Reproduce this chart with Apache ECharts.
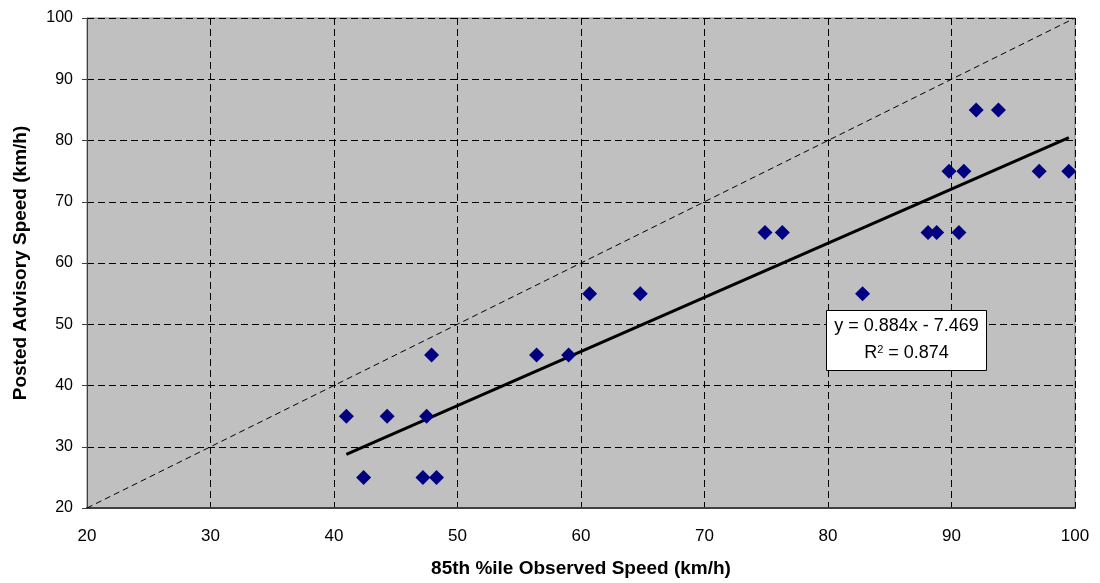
<!DOCTYPE html>
<html>
<head>
<meta charset="utf-8">
<script src="https://cdn.jsdelivr.net/npm/echarts@6/dist/echarts.min.js"></script>
<style>html,body{margin:0;padding:0;background:#fff}#c{width:1100px;height:583px}</style>
</head>
<body>
<div id="c"></div>
<script>
// Observed 85th percentile speed (km/h)
const observed = [41.0, 44.3, 47.5, 42.4, 47.2, 48.3, 47.9, 56.4, 59.0, 60.7, 64.8, 82.8,
                  74.9, 76.3, 88.1, 88.8, 90.6, 89.8, 91.0, 97.1, 99.5, 92.0, 93.8];
// Posted advisory speed (km/h)
const posted   = [35, 35, 35, 25, 25, 25, 45, 45, 45, 55, 55, 55,
                  65, 65, 65, 65, 65, 75, 75, 75, 75, 85, 85];
const slope = 0.884, intercept = -7.469, r2 = 0.874;
const axisTicks = [20, 30, 40, 50, 60, 70, 80, 90, 100];

const pts = observed.map((x, i) => [x, posted[i]]);
const xMin = Math.min(...observed), xMax = Math.max(...observed);
const trend = [[xMin, slope * xMin + intercept], [xMax, slope * xMax + intercept]];
const diag = [[axisTicks[0], axisTicks[0]], [axisTicks[axisTicks.length - 1], axisTicks[axisTicks.length - 1]]];

const font = 'Liberation Sans, Arial, sans-serif';
const chart = echarts.init(document.getElementById('c'));
chart.setOption({
  animation: false,
  grid: { left: 87, right: 25, top: 18, bottom: 74, show: true, backgroundColor: '#C0C0C0', borderColor: '#808080', borderWidth: 1 },
  xAxis: {
    type: 'value', min: 20, max: 100, interval: 10,
    name: '85th %ile Observed Speed (km/h)', nameLocation: 'middle', nameGap: 51,
    nameTextStyle: { fontFamily: font, fontWeight: 'bold', fontSize: 19, color: '#000' },
    axisLine: { show: true, onZero: false, lineStyle: { color: '#404040', width: 2 } },
    axisTick: { show: false },
    axisLabel: { fontFamily: font, fontSize: 17, color: '#000', margin: 20 },
    splitLine: { show: true, lineStyle: { color: '#000', type: [7, 4], width: 1 } }
  },
  yAxis: {
    type: 'value', min: 20, max: 100, interval: 10,
    name: 'Posted Advisory Speed (km/h)', nameLocation: 'middle', nameGap: 57,
    nameTextStyle: { fontFamily: font, fontWeight: 'bold', fontSize: 19, color: '#000' },
    axisLine: { show: true, onZero: false, lineStyle: { color: '#404040', width: 1 } },
    axisTick: { show: true, inside: false, length: 5, lineStyle: { color: '#404040' } },
    axisLabel: { fontFamily: font, fontSize: 16, color: '#000', margin: 14 },
    splitLine: { show: true, lineStyle: { color: '#000', type: [7, 4], width: 1 } }
  },
  series: [
    { type: 'line', data: diag, symbol: 'none', silent: true,
      lineStyle: { color: '#000', width: 1, type: [6, 4] }, z: 2 },
    { type: 'line', data: trend, symbol: 'none', silent: true,
      lineStyle: { color: '#000', width: 3 }, z: 3 },
    { type: 'scatter', data: pts, symbol: 'diamond', symbolSize: 15,
      itemStyle: { color: '#000080', opacity: 1 }, z: 4 }
  ],
  graphic: [{
    type: 'group', left: 826, top: 310, z: 100, zlevel: 1,
    children: [
      { type: 'rect', z: 100, shape: { x: 0, y: 0, width: 160, height: 60 },
        style: { fill: '#fff', stroke: '#000', lineWidth: 1 } },
      { type: 'text', z: 101, x: 80, y: 16,
        style: { text: 'y = ' + slope.toFixed(3) + 'x - ' + Math.abs(intercept).toFixed(3), fontFamily: font, fontSize: 18, fill: '#000', align: 'center', verticalAlign: 'middle' } },
      { type: 'text', z: 101, x: 80, y: 43,
        style: { text: '{a|R}{s|2}{a| = ' + r2.toFixed(3) + '}', fontFamily: font, align: 'center', verticalAlign: 'middle',
          rich: { a: { fontFamily: font, fontSize: 18, color: '#000' },
                  s: { fontFamily: font, fontSize: 11, color: '#000', verticalAlign: 'top', padding: [0, 0, 8, 0] } } } }
    ]
  }]
});
</script>
</body>
</html>
